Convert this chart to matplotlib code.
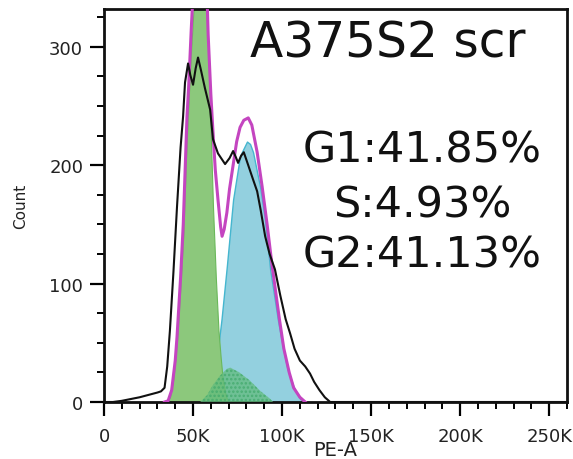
import matplotlib
matplotlib.use("Agg")
import matplotlib.pyplot as plt
from matplotlib.ticker import MultipleLocator

# PE-A in thousands, counts
raw_x = [0, 5, 10, 15, 20, 25, 30, 32, 34, 35.5, 37, 39, 41, 43, 44.4, 45.5, 47.2,
         48.5, 50, 51.5, 52.8, 54.5, 56.7, 59.6, 61.2, 64, 68, 70.5, 72.5, 74, 75.3,
         77, 78.5, 81, 83.7, 86, 88, 90.5, 93, 96, 99, 102, 104.5, 107, 110, 113,
         115.7, 118, 121, 124, 127, 140, 200, 262]
raw_y = [0, 0, 1, 2.5, 4, 6, 8, 9, 12, 30, 60, 110, 165, 215, 241, 270, 286,
         276, 268, 282, 291, 280, 265, 247, 222, 210, 201, 206, 212, 207, 202,
         208, 211, 200, 188, 178, 162, 140, 125, 112, 90, 70, 58, 45, 35, 30,
         24, 17, 10, 4, 0, 0, 0, 0]

fit_x = [34, 36, 38, 40, 41, 43, 44.5, 46, 46.6, 47.5, 49, 50, 53, 55, 57.9, 58.5,
         60, 61.2, 62.5, 64, 65.5, 66.3, 67.5, 69, 70.5, 72.5, 74.5, 76.4, 78.5, 81,
         83, 86, 88.8, 91.6, 94.4, 98.5, 101, 104, 106.5, 110, 113]
fit_y = [0, 1, 10, 35, 55, 105, 150, 215, 241, 265, 315, 345, 420, 400, 340, 310,
         260, 228, 196, 171, 148, 140, 146, 160, 180, 200, 220, 232, 238, 240,
         234, 211, 182, 150, 115, 70, 45, 25, 12, 4, 0]

g1_x = [35, 37, 39, 41, 43, 44.5, 46, 47.5, 49, 50.6, 52, 54, 56, 57.9, 59.5, 61.2,
        62.8, 64.3, 65.5, 66.5, 68, 69.5]
g1_y = [0, 4, 20, 52, 100, 140, 205, 255, 300, 340, 370, 385, 370, 332, 250, 165,
        105, 60, 38, 22, 8, 0]

g2_x = [54, 57, 60, 62, 64, 66, 69, 72.5, 76.4, 80.3, 82, 83.7, 87.6, 90.4, 93.3,
        97.8, 100.6, 103, 106.2, 108, 110, 113]
g2_y = [0, 5, 15, 28, 45, 70, 115, 171, 208, 220, 218, 211, 182, 154, 112,
        68, 45, 28, 14, 8, 3, 0]

s_x = [54, 58, 61, 65, 69, 71, 76, 82, 88, 93, 95]
s_y = [0, 6, 14, 22, 28, 29, 25, 18, 9, 3, 0]

xtick_vals = [0, 50, 100, 150, 200, 250]
xtick_labels = ['0', '50K', '100K', '150K', '200K', '250K']
ytick_vals = [0, 100, 200, 300]

sample = 'A375S2 scr'
stats = ['G1:41.85%', 'S:4.93%', 'G2:41.13%']

plt.rcParams['font.family'] = ['DejaVu Sans']
plt.rcParams['hatch.linewidth'] = 1.2
plt.rcParams['hatch.color'] = '#3fa86a'

fig = plt.figure(figsize=(5.73, 4.60), dpi=100)
ax = fig.add_axes([104 / 573, 1 - 403 / 460, 463 / 573, 393 / 460])

ax.fill_between(g2_x, g2_y, color='#93d0df', edgecolor='#45b6cf', linewidth=1.0, zorder=1)
ax.fill_between(g1_x, g1_y, color='#8cc87c', edgecolor='#6ab85a', linewidth=0.8, zorder=2)
ax.fill_between(s_x, s_y, facecolor='#62bb7c', alpha=0.75, hatch='....',
                edgecolor='#3fa86a', linewidth=0, zorder=3)
ax.plot(fit_x, fit_y, color='#c445c0', linewidth=2.2, zorder=4)
ax.plot(raw_x, raw_y, color='#111111', linewidth=1.5, zorder=5)

ax.set_xlim(0, 260)
ax.set_ylim(0, 332)

ax.set_xticks(xtick_vals)
ax.set_xticklabels(xtick_labels)
ax.set_yticks(ytick_vals)
ax.xaxis.set_minor_locator(MultipleLocator(10))
ax.yaxis.set_minor_locator(MultipleLocator(25))
ax.tick_params(which='major', direction='out', length=10, width=1.6,
               labelsize=13, labelcolor='#222222')
ax.tick_params(which='minor', direction='out', length=5, width=1.4)
ax.tick_params(axis='x', which='major', pad=8)
ax.tick_params(axis='y', which='major', pad=5)

for sp in ax.spines.values():
    sp.set_linewidth(2)
    sp.set_color('#111111')

ax.set_ylabel('Count', fontsize=11, color='#222222')
ax.yaxis.set_label_coords(-0.164, 0.5)
ax.set_xlabel('PE-A', fontsize=14, color='#222222')
ax.xaxis.set_label_coords(0.5, -0.097)

ax.text(0.613, 0.880, sample, transform=ax.transAxes, fontsize=35,
        ha='center', va='baseline', color='#111111', zorder=6)
for txt, yb in zip(stats, [0.613, 0.473, 0.346]):
    ax.text(0.687, yb, txt, transform=ax.transAxes, fontsize=31,
            ha='center', va='baseline', color='#111111', zorder=6)

fig.savefig('out.png', dpi=100)
